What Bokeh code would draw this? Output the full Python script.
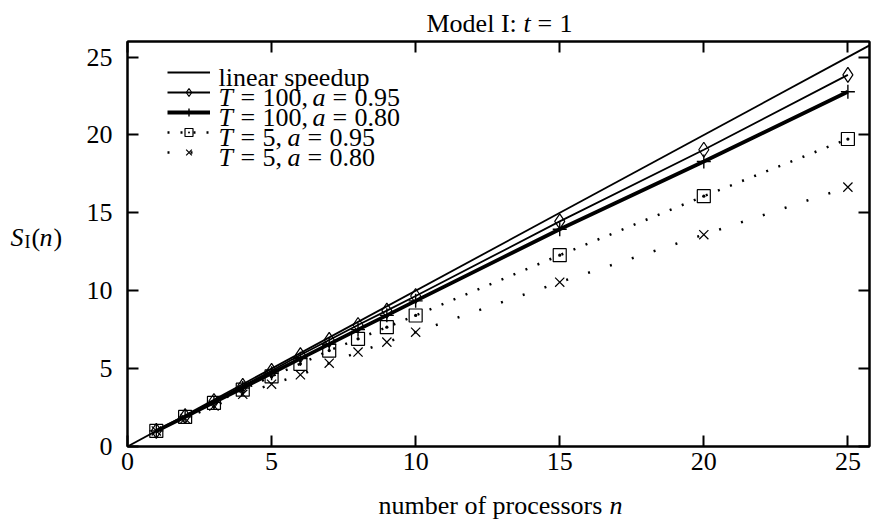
from bokeh.plotting import figure
from bokeh.layouts import column, row
from bokeh.models import Range1d, LinearAxis, FixedTicker, Label, Legend, LegendItem
from bokeh.embed import file_html
from bokeh.resources import INLINE

# ---------------- data ----------------
n_linear = [0, 26]
s_linear = [0, 26]
n_points = [1, 2, 3, 4, 5, 6, 7, 8, 9, 10, 15, 20, 25]
s_T100_a095 = [1.00, 1.95, 2.92, 3.89, 4.86, 5.87, 6.84, 7.80, 8.72, 9.66, 14.45, 19.05, 23.86]
s_T100_a080 = [1.00, 1.90, 2.83, 3.76, 4.70, 5.64, 6.57, 7.50, 8.42, 9.35, 13.95, 18.30, 22.77]
s_T5_a095 = [1.00, 1.90, 2.80, 3.65, 4.50, 5.31, 6.16, 6.91, 7.66, 8.41, 12.28, 16.07, 19.74]
s_T5_a080 = [1.00, 1.80, 2.60, 3.35, 4.00, 4.60, 5.35, 6.06, 6.70, 7.34, 10.55, 13.60, 16.65]
x_ticks = [0, 5, 10, 15, 20, 25]
y_ticks = [0, 5, 10, 15, 20, 25]
x_max = 25.75
y_max = 26

FONT = "Liberation Serif"
FS = "26px"

# ---------------- geometry (page pixels) ----------------
TOTAL_W = 871
TITLE_H = 39
YLAB_W = 70
MAIN_W = TOTAL_W - YLAB_W
ML, MR, MT, MB = 57, 2, 2, 37
FRAME_W = MAIN_W - ML - MR          # 742
FRAME_H = 405
MAIN_H = MT + FRAME_H + MB          # 444
XLAB_H = 38
FX0 = YLAB_W + ML                   # page x of data x=0
FY0 = TITLE_H + MT + FRAME_H        # page y of data y=0

# ---------------- main figure ----------------
p = figure(width=MAIN_W, height=MAIN_H, x_range=Range1d(0, x_max), y_range=Range1d(0, y_max),
           output_backend="svg", toolbar_location=None,
           min_border_left=ML, min_border_right=MR, min_border_top=MT, min_border_bottom=MB)
p.background_fill_color = "white"
p.border_fill_color = "white"
p.outline_line_color = "black"
p.outline_line_width = 2
p.xgrid.visible = False
p.ygrid.visible = False

def style_axis(ax, ticks, labels=True, standoff=2):
    ax.ticker = FixedTicker(ticks=ticks)
    ax.major_tick_in = 11
    ax.major_tick_out = 0
    ax.major_tick_line_width = 2
    ax.major_tick_line_color = "black"
    ax.minor_tick_line_color = None
    ax.axis_line_width = 2
    ax.axis_line_color = "black"
    if labels:
        ax.major_label_text_font = FONT
        ax.major_label_text_font_size = FS
        ax.major_label_text_color = "black"
        ax.major_label_standoff = standoff
    else:
        ax.major_label_text_font_size = "0px"
        ax.major_label_text_color = None
        ax.major_label_standoff = 0

style_axis(p.xaxis[0], x_ticks, True, 6)
style_axis(p.yaxis[0], y_ticks, True, 15)
top_ax = LinearAxis()
right_ax = LinearAxis()
style_axis(top_ax, x_ticks, False)
style_axis(right_ax, y_ticks, False)
p.add_layout(top_ax, "above")
p.add_layout(right_ax, "right")

# ---------------- series ----------------
r_lin = p.line(n_linear, s_linear, line_color="black", line_width=1.8)

r_a_line = p.line(n_points, s_T100_a095, line_color="black", line_width=1.8)
r_a_pts = p.scatter(n_points, s_T100_a095, marker="diamond", size=15,
                    fill_color=None, line_color="black", line_width=1.2)

r_b_line = p.line(n_points, s_T100_a080, line_color="black", line_width=3.8)
r_b_pts = p.scatter(n_points, s_T100_a080, marker="cross", size=14,
                    line_color="black", line_width=1.4)

r_c_line = p.line(n_points, s_T5_a095, line_color="black", line_width=2.5, line_dash="2 11")
r_c_pts = p.scatter(n_points, s_T5_a095, marker="square_dot", size=13,
                    fill_color=None, line_color="black", line_width=1.2)

r_d_line = p.line(n_points, s_T5_a080, line_color="black", line_width=2.5, line_dash="2 21")
r_d_pts = p.scatter(n_points, s_T5_a080, marker="x", size=13,
                    line_color="black", line_width=1.2)

legend = Legend(items=[
    LegendItem(label=" ", renderers=[r_lin]),
    LegendItem(label=" ", renderers=[r_a_line, r_a_pts]),
    LegendItem(label=" ", renderers=[r_b_line, r_b_pts]),
    LegendItem(label=" ", renderers=[r_c_line, r_c_pts]),
    LegendItem(label=" ", renderers=[r_d_line, r_d_pts]),
], location=(40, 284), orientation="vertical", glyph_width=43, glyph_height=20,
    label_height=20, label_width=0, label_standoff=0, spacing=0, padding=0, margin=0,
    border_line_color=None, background_fill_color=None, background_fill_alpha=0,
    label_text_font_size="1px")
p.add_layout(legend)

XS = FRAME_W / x_max
YS = FRAME_H / y_max

def main_txt(px, py, s, italic=False, size=FS):
    p.add_layout(Label(x=(px - FX0) / XS, y=(FY0 - py) / YS, text=s,
                       text_font=FONT, text_font_size=size,
                       text_font_style="italic" if italic else "normal",
                       text_color="black", text_align="left", text_baseline="alphabetic"))

# legend texts
row_base = [77, 97, 117, 137, 157]
main_txt(218, row_base[0], "linear speedup")
legend_rows = [("100,", "0.95", 312, 332, 354),
               ("100,", "0.80", 312, 332, 354),
               ("5,", "0.95", 287, 307, 329),
               ("5,", "0.80", 287, 307, 329)]
for i, (tv, av, a_x, eq_x, v_x) in enumerate(legend_rows):
    b = row_base[i + 1]
    main_txt(218, b, "T", italic=True)
    main_txt(240, b, "=")
    main_txt(262, b, tv)
    main_txt(a_x, b, "a", italic=True)
    main_txt(eq_x, b, "=")
    main_txt(v_x, b, av)

# ---------------- text-only figures (title, axis labels) ----------------
def text_fig(w, h, px0, py0):
    f = figure(width=w, height=h, x_range=Range1d(px0, px0 + w), y_range=Range1d(py0 + h, py0),
               output_backend="svg", toolbar_location=None,
               x_axis_location=None, y_axis_location=None, min_border=0)
    f.xgrid.visible = False
    f.ygrid.visible = False
    f.outline_line_color = None
    f.background_fill_color = "white"
    f.border_fill_color = "white"
    return f

def add_txt(f, px, py, s, italic=False, size=FS):
    f.add_layout(Label(x=px, y=py, text=s, text_font=FONT, text_font_size=size,
                       text_font_style="italic" if italic else "normal",
                       text_color="black", text_align="left", text_baseline="alphabetic"))

title_fig = text_fig(TOTAL_W, TITLE_H, 0, 0)
add_txt(title_fig, 426, 23, "Model I:")
add_txt(title_fig, 523, 23, "t", italic=True)
add_txt(title_fig, 537, 23, "=")
add_txt(title_fig, 559, 23, "1")

ylab_fig = text_fig(YLAB_W, MAIN_H, 0, TITLE_H)
add_txt(ylab_fig, 10, 254, "S", italic=True)
add_txt(ylab_fig, 24, 259, "I", size="18px")
add_txt(ylab_fig, 31, 254, "(")
add_txt(ylab_fig, 39, 254, "n", italic=True)
add_txt(ylab_fig, 53, 254, ")")

xlab_fig = text_fig(TOTAL_W, XLAB_H, 0, TITLE_H + MAIN_H)
add_txt(xlab_fig, 378, 505, "number of processors")
add_txt(xlab_fig, 609, 505, "n", italic=True)

layout = column(title_fig, row(ylab_fig, p), xlab_fig)

open("out.html", "w").write(file_html(layout, INLINE))
